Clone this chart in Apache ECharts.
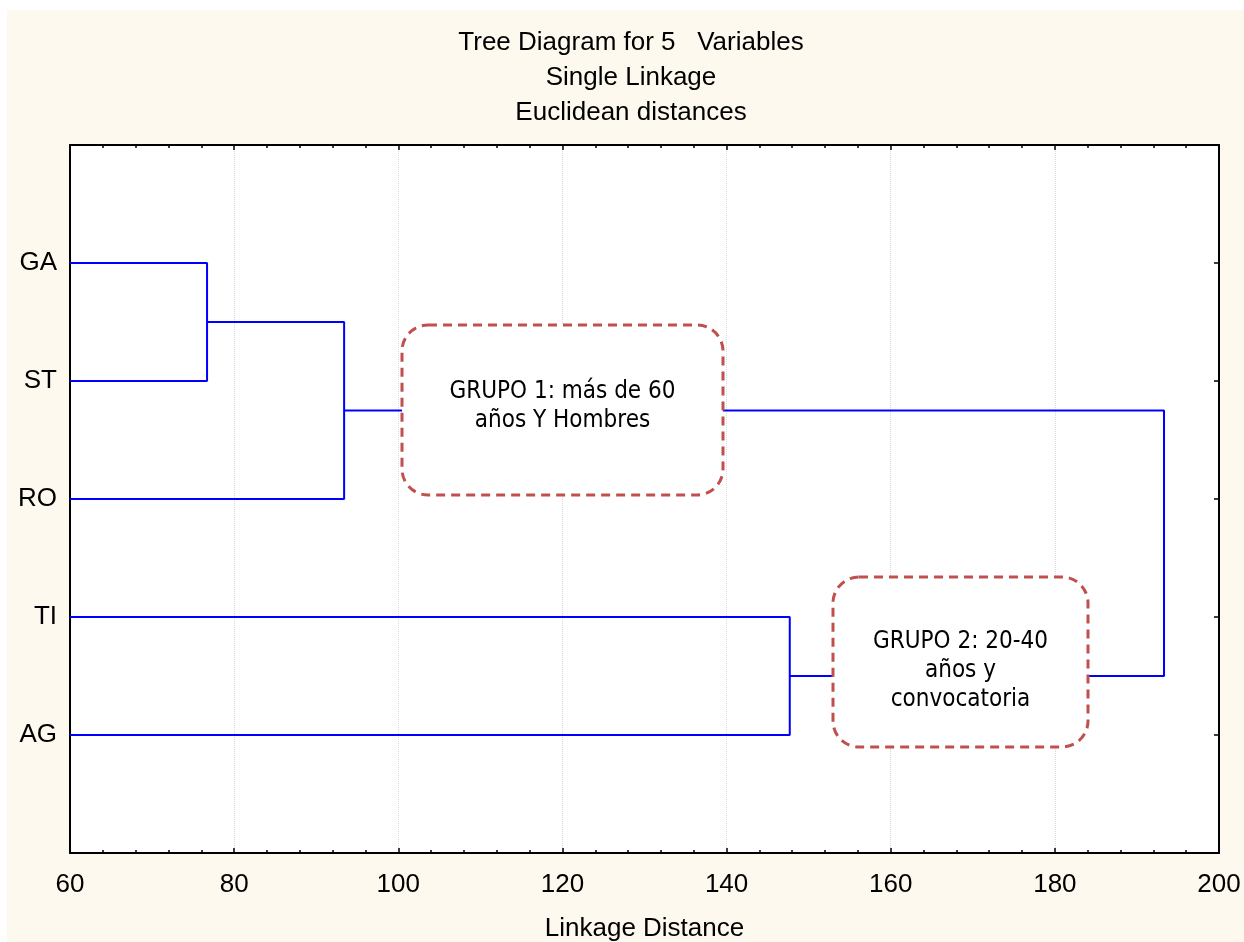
<!DOCTYPE html>
<html>
<head>
<meta charset="utf-8">
<script src="https://cdn.jsdelivr.net/npm/echarts@6/dist/echarts.min.js"></script>
<style>
html,body{margin:0;padding:0;background:#ffffff;}
#chart{width:1244px;height:942px;}
</style>
</head>
<body>
<div id="chart"></div>
<script>
// ---- data ----
var leaves = ['GA', 'ST', 'RO', 'TI', 'AG'];
// each merge joins two nodes (leaf index 0..4, or cluster index 5+ in order of creation)
var mergePairs = [[0, 1], [5, 2], [3, 4], [6, 7]];
var mergeDistances = [76.7, 93.4, 147.7, 193.3];
var xTicks = [60, 80, 100, 120, 140, 160, 180, 200];
var titleLines = ['Tree Diagram for 5   Variables', 'Single Linkage', 'Euclidean distances'];
var xAxisName = 'Linkage Distance';
var groupNotes = ['GRUPO 1: más de 60\naños Y Hombres', 'GRUPO 2: 20-40\naños y\nconvocatoria'];

// ---- build dendrogram segments ----
var xMin = xTicks[0], xMax = xTicks[xTicks.length - 1];
var nodes = leaves.map(function (n, i) { return { y: i + 1, h: xMin }; });
var series = [];
mergePairs.forEach(function (p, i) {
  var a = nodes[p[0]], b = nodes[p[1]], h = mergeDistances[i];
  series.push({
    type: 'line',
    data: [[a.h, a.y], [h, a.y], [h, b.y], [b.h, b.y]],
    symbol: 'none',
    silent: true,
    animation: false,
    lineStyle: { color: '#0000FF', width: 2 },
    z: 3
  });
  nodes.push({ y: (a.y + b.y) / 2, h: h });
});

var FONT = 'Liberation Sans, Arial, sans-serif';
var NOTEFONT = '"DejaVu Sans Condensed", "DejaVu Sans", sans-serif';
var tickStyle = { color: '#000', width: 1.5 };

var chart = echarts.init(document.getElementById('chart'), null, { renderer: 'canvas' });

function boxGraphic(x, y, w, h, text, textY) {
  return [{
    type: 'rect',
    shape: { x: x, y: y, width: w, height: h, r: 26 },
    style: { fill: '#ffffff', stroke: '#C0504D', lineWidth: 3, lineDash: [9, 6] },
    z: 100
  }, {
    type: 'text',
    x: x + w / 2,
    y: textY,
    style: {
      text: text, fill: '#000', font: '24px ' + NOTEFONT,
      textAlign: 'center', textVerticalAlign: 'middle', lineHeight: 29
    },
    z: 101
  }];
}

var graphics = [
  { type: 'rect', shape: { x: 7, y: 10, width: 1244, height: 942 }, style: { fill: '#FEF9EF' }, z: -10, silent: true },
  {
    type: 'text', x: 631, y: 25,
    style: { text: titleLines.join('\n'), fill: '#000', font: '26px ' + FONT, textAlign: 'center', textVerticalAlign: 'top', lineHeight: 35 },
    z: 10
  }
].concat(boxGraphic(402, 325, 321, 170, groupNotes[0], 406))
 .concat(boxGraphic(833, 577, 255, 170, groupNotes[1], 671));

chart.setOption({
  backgroundColor: 'transparent',
  animation: false,
  grid: {
    left: 70, right: 25, top: 145, bottom: 89, show: true, backgroundColor: '#ffffff', borderWidth: 0,
    containLabel: false, outerBoundsMode: 'none'
  },
  xAxis: [{
    type: 'value', min: xMin, max: xMax, interval: 20, position: 'bottom',
    axisLine: { show: true, onZero: false, lineStyle: { color: '#000', width: 2 } },
    axisTick: { show: true, inside: true, length: 5, lineStyle: tickStyle },
    minorTick: { show: true, splitNumber: 5, length: 3, lineStyle: tickStyle },
    splitLine: { show: true, lineStyle: { color: '#d9d9d9', type: 'dotted', width: 1 } },
    axisLabel: { color: '#000', fontSize: 26, fontFamily: FONT, margin: 19 },
    name: xAxisName, nameLocation: 'middle', nameGap: 63,
    nameTextStyle: { color: '#000', fontSize: 26, fontFamily: FONT }
  }, {
    type: 'value', min: xMin, max: xMax, interval: 20, position: 'top',
    axisLine: { show: true, onZero: false, lineStyle: { color: '#000', width: 2 } },
    axisTick: { show: true, inside: true, length: 5, lineStyle: tickStyle },
    minorTick: { show: true, splitNumber: 5, length: 3, lineStyle: tickStyle },
    splitLine: { show: false },
    axisLabel: { show: false }
  }],
  yAxis: [{
    type: 'value', min: 0, max: leaves.length + 1, interval: 1, inverse: true, position: 'left',
    axisLine: { show: true, onZero: false, lineStyle: { color: '#000', width: 2 } },
    axisTick: { show: true, inside: true, length: 5, lineStyle: tickStyle },
    splitLine: { show: false },
    axisLabel: {
      color: '#000', fontSize: 26, fontFamily: FONT, margin: 13,
      formatter: function (v) { return leaves[v - 1] || ''; }
    }
  }, {
    type: 'value', min: 0, max: leaves.length + 1, interval: 1, inverse: true, position: 'right',
    axisLine: { show: true, onZero: false, lineStyle: { color: '#000', width: 2 } },
    axisTick: { show: true, inside: true, length: 5, lineStyle: tickStyle },
    splitLine: { show: false },
    axisLabel: { show: false }
  }],
  series: series,
  graphic: graphics
});
</script>
</body>
</html>
